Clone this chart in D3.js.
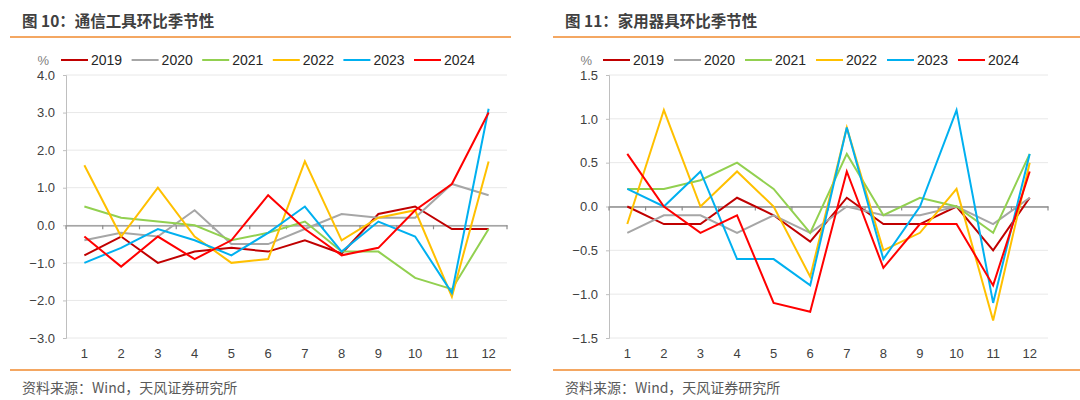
<!DOCTYPE html>
<html><head><meta charset="utf-8">
<script src="https://cdn.jsdelivr.net/npm/d3@7/dist/d3.min.js"></script>
<style>
body{margin:0;background:#fff;}
svg{display:block;font-family:"Liberation Sans",Arial,sans-serif;}
</style></head>
<body><svg id="c" width="1080" height="400"></svg>
<script>
const months = ["1","2","3","4","5","6","7","8","9","10","11","12"];
const years = ["2019","2020","2021","2022","2023","2024"];
const colors = ["#C00000","#A6A6A6","#92D050","#FFC000","#00B0F0","#FF0000"];

// 图10 通信工具
const comm2019 = [-0.8,-0.3,-1.0,-0.7,-0.6,-0.7,-0.4,-0.75,0.3,0.5,-0.1,-0.1];
const comm2020 = [-0.4,-0.2,-0.3,0.4,-0.5,-0.5,-0.1,0.3,0.2,0.2,1.1,0.8];
const comm2021 = [0.5,0.2,0.1,0.0,-0.4,-0.2,0.1,-0.7,-0.7,-1.4,-1.7,-0.1];
const comm2022 = [1.6,-0.3,1.0,-0.3,-1.0,-0.9,1.7,-0.4,0.2,0.4,-1.9,1.7];
const comm2023 = [-1.0,-0.6,-0.1,-0.4,-0.8,-0.2,0.5,-0.7,0.1,-0.3,-1.8,3.1];
const comm2024 = [-0.3,-1.1,-0.3,-0.9,-0.4,0.8,-0.1,-0.8,-0.6,0.4,1.1,3.0];
const commTicks = [4,3,2,1,0,-1,-2,-3];

// 图11 家用器具
const home2019 = [0.0,-0.2,-0.2,0.1,-0.1,-0.4,0.1,-0.2,-0.2,0.0,-0.5,0.1];
const home2020 = [-0.3,-0.1,-0.1,-0.3,-0.1,-0.3,0.0,-0.1,-0.1,0.0,-0.2,0.1];
const home2021 = [0.2,0.2,0.3,0.5,0.2,-0.3,0.6,-0.1,0.1,0.0,-0.3,0.6];
const home2022 = [-0.2,1.1,0.0,0.4,0.0,-0.8,0.9,-0.5,-0.3,0.2,-1.3,0.5];
const home2023 = [0.2,0.0,0.4,-0.6,-0.6,-0.9,0.9,-0.6,0.0,1.1,-1.1,0.6];
const home2024 = [0.6,0.0,-0.3,-0.1,-1.1,-1.2,0.4,-0.7,-0.2,-0.2,-0.9,0.4];
const homeTicks = [1.5,1.0,0.5,0,-0.5,-1.0,-1.5];

const svg = d3.select("#c");

function panel(cfg){
  const g = svg.append("g");
  // title
  g.append("text").attr("x",cfg.titleX).attr("y",27)
    .attr("font-family","'Noto Sans CJK SC',sans-serif").attr("font-weight","bold")
    .attr("font-size",15.5).attr("fill","#404040").text(cfg.title);
  g.append("line").attr("x1",cfg.ruleX1).attr("x2",cfg.ruleX2).attr("y1",37).attr("y2",37)
    .attr("stroke","#F08A2E").attr("stroke-width",1.5);
  g.append("line").attr("x1",cfg.ruleX1).attr("x2",cfg.ruleX2).attr("y1",370).attr("y2",370)
    .attr("stroke","#F08A2E").attr("stroke-width",1.5);
  g.append("text").attr("x",cfg.titleX).attr("y",393)
    .attr("font-family","'Noto Sans CJK SC',sans-serif")
    .attr("font-size",14).attr("fill","#595959").text("资料来源：Wind，天风证券研究所");

  const x = d3.scaleBand().domain(months).range([cfg.x0,cfg.x1]).padding(0);
  const y = d3.scaleLinear().domain(cfg.domain).range([338,75]);

  // grid
  g.append("g").selectAll("line").data(cfg.ticks).join("line")
    .attr("x1",cfg.x0).attr("x2",cfg.x1).attr("y1",d=>y(d)).attr("y2",d=>y(d))
    .attr("stroke","#E8E8E8").attr("stroke-width",1);
  // y axis
  const ya = g.append("g").attr("transform",`translate(${cfg.x0},0)`)
    .call(d3.axisLeft(y).tickValues(cfg.ticks).tickFormat(d3.format(".1f")).tickSize(3).tickPadding(8));
  ya.select(".domain").attr("stroke","#BFBFBF");
  ya.selectAll(".tick line").attr("stroke","#BFBFBF");
  ya.selectAll("text").attr("font-size",13).attr("fill","#404040")
    .attr("font-family","'Liberation Sans',Arial,sans-serif");
  // x labels
  g.append("g").selectAll("text").data(months).join("text")
    .attr("x",d=>x(d)+x.bandwidth()/2).attr("y",358).attr("text-anchor","middle")
    .attr("font-size",13).attr("fill","#404040").text(d=>d);
  // zero axis
  const xa = g.append("g").attr("transform",`translate(0,${y(0)})`)
    .call(d3.axisBottom(x).tickValues([]).tickSizeOuter(0));
  xa.select(".domain").attr("stroke","#8C8C8C").attr("stroke-width",1.3);
  const bounds = months.map(m=>x(m)).concat([cfg.x1]);
  g.append("g").selectAll("line").data(bounds).join("line")
    .attr("x1",d=>d).attr("x2",d=>d).attr("y1",y(0)).attr("y2",y(0)+4)
    .attr("stroke","#8C8C8C").attr("stroke-width",1.2);

  // lines
  const line = d3.line().x((d,i)=>x(months[i])+x.bandwidth()/2).y(d=>y(d));
  cfg.series.forEach((s,i)=>{
    g.append("path").datum(s).attr("d",line).attr("fill","none")
      .attr("stroke",colors[i]).attr("stroke-width",2).attr("stroke-linejoin","miter");
  });

  // legend
  g.append("text").attr("x",cfg.pctX).attr("y",65).attr("text-anchor","end")
    .attr("font-size",13).attr("fill","#7F7F7F").text("%");
  const lg = g.append("g").selectAll("g").data(years).join("g")
    .attr("transform",(d,i)=>`translate(${cfg.legX+i*cfg.legStep},0)`);
  lg.append("line").attr("x1",0).attr("x2",27).attr("y1",60).attr("y2",60)
    .attr("stroke",(d,i)=>colors[i]).attr("stroke-width",2);
  lg.append("text").attr("x",30).attr("y",65).attr("font-size",14).attr("fill","#262626").text(d=>d);
}

panel({title:"图 10：通信工具环比季节性", titleX:22, ruleX1:10, ruleX2:511,
  x0:66, x1:507, domain:[-3,4], ticks:commTicks, pctX:49, legX:61, legStep:70.6,
  series:[comm2019,comm2020,comm2021,comm2022,comm2023,comm2024]});
panel({title:"图 11：家用器具环比季节性", titleX:565, ruleX1:553, ruleX2:1080,
  x0:609, x1:1048, domain:[-1.5,1.5], ticks:homeTicks, pctX:592, legX:603, legStep:71,
  series:[home2019,home2020,home2021,home2022,home2023,home2024]});
</script></body></html>
